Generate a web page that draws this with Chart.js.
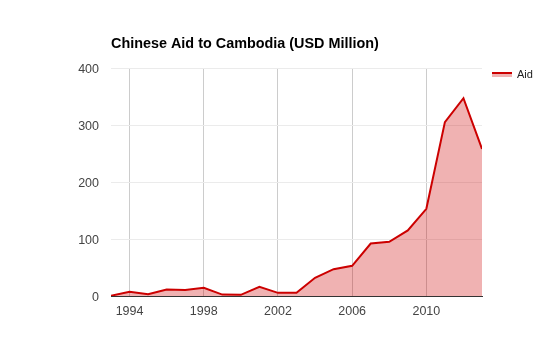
<!DOCTYPE html>
<html>
<head>
<meta charset="utf-8">
<script src="https://cdn.jsdelivr.net/npm/chart.js@4"></script>
<style>
  html, body { margin: 0; padding: 0; background: #fff; }
  #wrap { width: 550px; height: 361px; position: relative; }
</style>
</head>
<body>
<div id="wrap"><canvas id="c" width="550" height="361"></canvas></div>
<script>
const years = [1993,1994,1995,1996,1997,1998,1999,2000,2001,2002,2003,2004,2005,2006,2007,2008,2009,2010,2011,2012,2013];
const aid = [0.5,7.5,3,11.5,10.5,14.5,2.5,2,16,5.5,5.5,32,47,53,92,95,115,153,305,347,258];
const xTicks = [1994,1998,2002,2006,2010];
const yTicks = [0,100,200,300,400];
const titleText = 'Chinese Aid to Cambodia (USD Million)';
const seriesName = 'Aid';

const extras = {
  id: 'extras',
  afterDraw(chart) {
    const ctx = chart.ctx;
    ctx.save();
    // title
    ctx.font = 'bold 14.4px "Liberation Sans", Arial, sans-serif';
    ctx.fillStyle = '#000';
    ctx.textBaseline = 'alphabetic';
    ctx.textAlign = 'left';
    ctx.fillText(titleText, chart.chartArea.left, 47.5);
    // legend
    ctx.fillStyle = 'rgba(204,0,0,0.3)';
    ctx.fillRect(492, 72, 20, 5);
    ctx.fillStyle = '#cc0000';
    ctx.fillRect(492, 72, 20, 2);
    ctx.font = '11px "Liberation Sans", Arial, sans-serif';
    ctx.fillStyle = '#222';
    ctx.textBaseline = 'middle';
    ctx.fillText(seriesName, 517, 75);
    ctx.restore();
  }
};

new Chart(document.getElementById('c'), {
  type: 'line',
  data: {
    datasets: [{
      label: seriesName,
      data: years.map((y, i) => ({ x: y, y: aid[i] })),
      borderColor: '#cc0000',
      backgroundColor: 'rgba(204,0,0,0.3)',
      borderWidth: 2,
      fill: 'origin',
      pointRadius: 0,
      tension: 0
    }]
  },
  options: {
    responsive: false,
    animation: false,
    layout: { padding: { left: 0, right: 68, top: 68, bottom: 0 } },
    plugins: { legend: { display: false }, title: { display: false }, tooltip: { enabled: false } },
    scales: {
      x: {
        type: 'linear',
        min: 1993,
        max: 2013,
        afterBuildTicks: s => { s.ticks = xTicks.map(v => ({ value: v })); },
        afterFit: s => { s.height = 65; },
        grid: { color: '#cccccc', drawTicks: false, lineWidth: 1 },
        border: { display: true, color: '#333333', width: 1 },
        ticks: {
          padding: 8,
          color: '#444',
          font: { family: '"Liberation Sans", Arial, sans-serif', size: 12.5 },
          callback: v => String(v),
          maxRotation: 0
        }
      },
      y: {
        min: 0,
        max: 400,
        afterBuildTicks: s => { s.ticks = yTicks.map(v => ({ value: v })); },
        afterFit: s => { s.width = 111; },
        grid: { color: '#ebebeb', drawTicks: false, lineWidth: 1 },
        border: { display: false },
        ticks: {
          padding: 12,
          labelOffset: 2,
          color: '#444',
          font: { family: '"Liberation Sans", Arial, sans-serif', size: 12.5 }
        }
      }
    }
  },
  plugins: [extras]
});
</script>
</body>
</html>
